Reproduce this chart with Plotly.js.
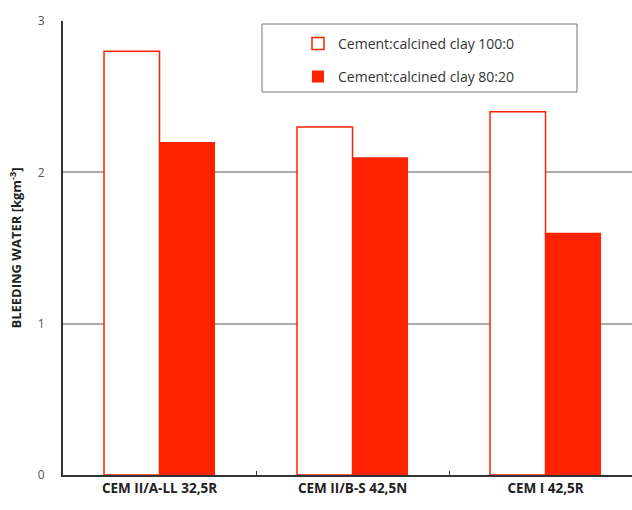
<!DOCTYPE html>
<html><head><meta charset="utf-8">
<script src="https://cdn.plot.ly/plotly-3.0.1.min.js"></script>
<style>html,body{margin:0;padding:0;background:#fff}#chart{width:632px;height:510px}</style>
</head><body><div id="chart"></div>
<script>
const categories = ["CEM II/A-LL 32,5R", "CEM II/B-S 42,5N", "CEM I 42,5R"];
const seriesNames = ["Cement:calcined clay 100:0", "Cement:calcined clay 80:20"];
const values100 = [2.8, 2.3, 2.4];
const values80 = [2.2, 2.1, 1.6];
const yTicks = [0, 1, 2, 3];

const red = "#ff2200";
const traces = [
  {type: "bar", name: seriesNames[0], x: categories, y: values100, legendgroup: "a",
   marker: {color: "#ffffff", line: {color: red, width: 1.5}}},
  {type: "bar", name: seriesNames[1], x: categories, y: values80, legendgroup: "b",
   marker: {color: red, line: {color: red, width: 0}}}
];
const layout = {
  width: 632, height: 510,
  margin: {l: 63, r: 0, t: 21, b: 35},
  paper_bgcolor: "#fff", plot_bgcolor: "#fff",
  barmode: "group", bargap: 0.425, bargroupgap: 0,
  font: {family: "Open Sans, sans-serif"},
  xaxis: {type: "category", range: [-0.5, 2.448], tickson: "boundaries",
    ticks: "inside", ticklen: 4, tickcolor: "#333", showgrid: false,
    showline: true, linecolor: "#333", linewidth: 2,
    tickfont: {size: 13.5, color: "#222", family: "Open Sans, sans-serif", weight: "bold"},
    fixedrange: true},
  yaxis: {range: [0, 3], tickvals: yTicks, ticktext: yTicks.map(String),
    showgrid: true, gridcolor: "#aaaaaa", gridwidth: 2,
    showline: true, linecolor: "#333", linewidth: 2, zeroline: false,
    ticks: "", ticklabelstandoff: 14,
    tickfont: {size: 12, color: "#555"},
    title: {text: "BLEEDING WATER [kgm<sup>-3</sup>]", standoff: 13,
      font: {size: 13, color: "#222", weight: "bold"}}},
  showlegend: true,
  legend: {x: 0.413, y: 0.985, xanchor: "left", yanchor: "top",
    bgcolor: "rgba(0,0,0,0)", borderwidth: 0, traceorder: "grouped", tracegroupgap: 12,
    font: {size: 14, color: "#333"}, itemwidth: 30},
  shapes: [{type: "rect", xref: "paper", yref: "paper",
    x0: (262-63)/569, x1: (577-63)/569, y0: 1-(92-21)/454, y1: 1-(24-21)/454,
    line: {color: "#777", width: 1}, fillcolor: "rgba(0,0,0,0)", layer: "above"}]
};
Plotly.newPlot("chart", traces, layout, {displayModeBar: false, staticPlot: true});
</script></body></html>
